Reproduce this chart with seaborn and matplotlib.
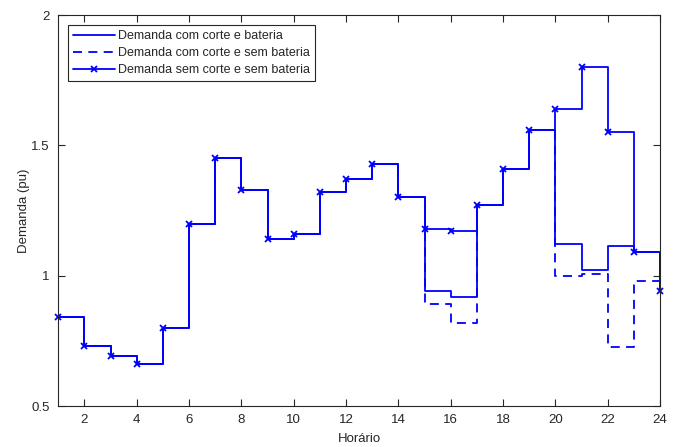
import pandas as pd
import matplotlib
import matplotlib.pyplot as plt
import seaborn as sns

matplotlib.use('Agg')

# hourly demand (pu), stairs held from hour h to h+1
horas = list(range(1, 25))
sem_corte_sem_bateria = [0.84, 0.73, 0.69, 0.66, 0.80, 1.20, 1.45, 1.33, 1.14, 1.16, 1.32, 1.37,
                         1.43, 1.30, 1.18, 1.17, 1.27, 1.41, 1.56, 1.64, 1.80, 1.55, 1.09, 0.94]
com_corte_com_bateria = [0.84, 0.73, 0.69, 0.66, 0.80, 1.20, 1.45, 1.33, 1.14, 1.16, 1.32, 1.37,
                         1.43, 1.30, 0.94, 0.92, 1.27, 1.41, 1.56, 1.12, 1.02, 1.115, 1.09, 0.94]
com_corte_sem_bateria = [0.84, 0.73, 0.69, 0.66, 0.80, 1.20, 1.45, 1.33, 1.14, 1.16, 1.32, 1.37,
                         1.43, 1.30, 0.89, 0.82, 1.27, 1.41, 1.56, 1.00, 1.005, 0.725, 0.98, 0.94]
rotulos = ['Demanda com corte e bateria',
           'Demanda com corte e sem bateria',
           'Demanda sem corte e sem bateria']

df = pd.DataFrame({'hora': horas,
                   'c1': com_corte_com_bateria,
                   'c2': com_corte_sem_bateria,
                   'c3': sem_corte_sem_bateria})

sns.set_style("ticks")
plt.rcParams['font.family'] = ['Liberation Sans', 'DejaVu Sans']
plt.rcParams['font.size'] = 9.5
gray = '#262626'

fig = plt.figure(figsize=(6.8, 4.47), dpi=100)
ax = fig.add_axes([0.0857, 0.0917, 0.8849, 0.8747])

sns.lineplot(data=df, x='hora', y='c1', ax=ax, color='blue', lw=1.3,
             drawstyle='steps-post', label=rotulos[0])
n = len(ax.lines)
sns.lineplot(data=df, x='hora', y='c2', ax=ax, color='blue', lw=1.3,
             drawstyle='steps-post', label=rotulos[1])
for ln in ax.lines[n:]:
    ln.set_linestyle((0, (5, 3.5)))
n = len(ax.lines)
sns.lineplot(data=df, x='hora', y='c3', ax=ax, color='blue', lw=1.3,
             drawstyle='steps-post', marker='x', markersize=5, mew=1.3,
             markeredgecolor='blue', label=rotulos[2])
# markers at the axis edges are not cut off in the original
for ln in ax.lines[n:]:
    ln.set_clip_on(False)

ax.set_xlim(1, 24)
ax.set_ylim(0.5, 2)
ax.set_xticks(range(2, 25, 2))
ax.set_yticks([0.5, 1, 1.5, 2])
ax.set_yticklabels(['0.5', '1', '1.5', '2'])
ax.set_xlabel('Horário', color=gray, labelpad=5)
ax.set_ylabel('Demanda (pu)', color=gray, labelpad=1)
ax.tick_params(direction='in', top=True, right=True, length=5, width=0.8,
               colors=gray, labelcolor=gray, pad=6)
for s in ax.spines.values():
    s.set_color(gray)
    s.set_linewidth(0.8)

leg = ax.legend(loc='upper left', fancybox=False, framealpha=1, edgecolor=gray,
                borderaxespad=0.8, handlelength=3.3, handletextpad=0.3,
                labelspacing=0.4, borderpad=0.4, fontsize=9)
leg.get_frame().set_linewidth(0.8)
for t in leg.get_texts():
    t.set_color(gray)

fig.savefig('out.png', dpi=100)
